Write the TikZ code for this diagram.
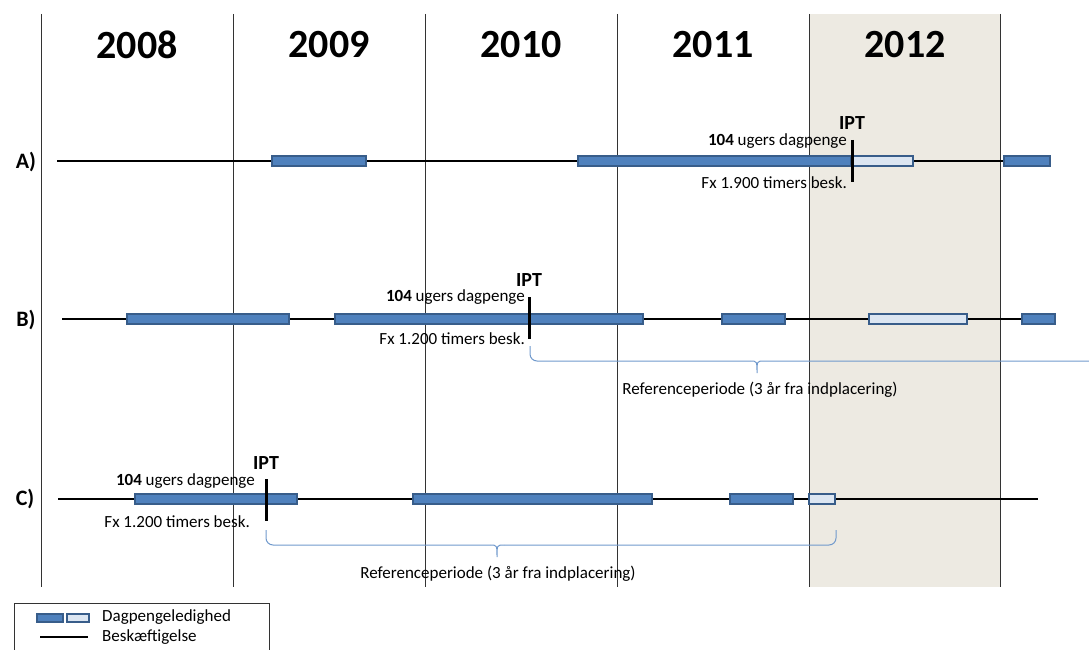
\documentclass[tikz,border=0pt]{standalone}
\usepackage{fontspec}
\setmainfont{Carlito}
\definecolor{barfill}{HTML}{4F81BD}
\definecolor{barline}{HTML}{385D8A}
\definecolor{lightfill}{HTML}{DCE6F2}
\definecolor{colshade}{HTML}{EDEAE2}
\definecolor{bracec}{HTML}{7099CC}
\newcommand{\seg}[5]{\node[#1,minimum width={(#4)-(#3)}] (#2) at ({((#3)+(#4))/2},#5) {};}
\begin{document}
\begin{tikzpicture}[x=1pt,y=-1pt,
  darkbar/.style={rectangle,draw=barline,fill=barfill,line width=1.3pt,minimum height=10pt,inner sep=0pt},
  lightbar/.style={rectangle,draw=barline,fill=lightfill,line width=1.3pt,minimum height=10pt,inner sep=0pt},
  timeline/.style={line width=2pt,black},
  ipttick/.style={line width=3pt,black},
  gridline/.style={line width=0.8pt,black!80},
  bracepath/.style={draw=bracec,line width=1pt},
  year/.style={font=\fontsize{40}{40}\selectfont\bfseries},
  rowlab/.style={font=\fontsize{22}{22}\selectfont\bfseries},
  small/.style={font=\fontsize{17}{17}\selectfont,inner sep=0pt},
  ipt/.style={font=\fontsize{20}{20}\selectfont\bfseries,inner sep=0pt}]
\useasboundingbox (0,0) rectangle (1089,650);
\clip (0,0) rectangle (1089,650);
% shaded 2012 column
\fill[colshade] (809,14) rectangle (1000,587);
% grid lines
\foreach \x/\n in {41/g0,233/g1,425/g2,617/g3,809/g4,1000/g5}{
  \coordinate (\n t) at (\x,14); \coordinate (\n b) at (\x,587);
  \draw[gridline] (\n t) -- (\n b);}
% years
\node[year] (y2008) at (137,45) {2008};
\node[year] (y2009) at (329,45) {2009};
\node[year] (y2010) at (521,45) {2010};
\node[year] (y2011) at (713,45) {2011};
\node[year] (y2012) at (905,45) {2012};
% row labels
\node[rowlab] (rA) at (26,162) {A)};
\node[rowlab] (rB) at (26,320) {B)};
\node[rowlab] (rC) at (25,499) {C)};
% Row A
\coordinate (As) at (57,161); \coordinate (Ae) at (1004,161);
\draw[timeline] (As) -- (Ae);
\seg{darkbar}{a1}{272}{366}{161}
\seg{darkbar}{a2}{578}{851}{161}
\seg{lightbar}{a3}{851}{913}{161}
\seg{darkbar}{a4}{1004}{1050}{161}
\coordinate (At1) at (852,140); \coordinate (At2) at (852,182);
\draw[ipttick] (At1) -- (At2);
\node[ipt] (iptA) at (852,123) {IPT};
\node[small,anchor=east] (dA) at (847,141) {\textbf{104} ugers dagpenge};
\node[small,anchor=east] (fA) at (847,183) {Fx 1.900 timers besk.};
% Row B
\coordinate (Bs) at (62,319); \coordinate (Be) at (1022,319);
\draw[timeline] (Bs) -- (Be);
\seg{darkbar}{b1}{127}{289}{319}
\seg{darkbar}{b2}{335}{643}{319}
\seg{darkbar}{b3}{722}{785}{319}
\seg{lightbar}{b4}{869}{967}{319}
\seg{darkbar}{b5}{1022}{1055}{319}
\coordinate (Bt1) at (529,297); \coordinate (Bt2) at (529,339);
\draw[ipttick] (Bt1) -- (Bt2);
\node[ipt] (iptB) at (529,280) {IPT};
\node[small,anchor=east] (dB) at (525,297) {\textbf{104} ugers dagpenge};
\node[small,anchor=east] (fB) at (525,339) {Fx 1.200 timers besk.};
% brace B
\draw[bracepath,rounded corners=7pt] (530,346) -- (530,361) -- (750,361);
\draw[bracepath] (750,361) .. controls (757,361) .. (757,373) .. controls (757,361) .. (764,361) -- (1100,361);
\node[small] (refB) at (760,390) {Referenceperiode (3 år fra indplacering)};
% Row C
\coordinate (Cs) at (58,499); \coordinate (Ce) at (1038,499);
\draw[timeline] (Cs) -- (Ce);
\seg{darkbar}{c1}{135}{297}{499}
\seg{darkbar}{c2}{413}{652}{499}
\seg{darkbar}{c3}{730}{793}{499}
\seg{lightbar}{c4}{809}{835}{499}
\coordinate (Ct1) at (266,479); \coordinate (Ct2) at (266,521);
\draw[ipttick] (Ct1) -- (Ct2);
\node[ipt] (iptC) at (266,463) {IPT};
\node[small,anchor=east] (dC) at (255,481) {\textbf{104} ugers dagpenge};
\node[small,anchor=east] (fC) at (250,522) {Fx 1.200 timers besk.};
% brace C
\draw[bracepath,rounded corners=7pt] (266,530) -- (266,545) -- (490,545);
\draw[bracepath] (490,545) .. controls (497,545) .. (497,557) .. controls (497,545) .. (504,545);
\draw[bracepath,rounded corners=7pt] (504,545) -- (836,545) -- (836,530);
\node[small] (refC) at (498,574) {Referenceperiode (3 år fra indplacering)};
% legend
\draw[line width=1pt,black!80] (14,603) rectangle (269,660);
\node[rectangle,draw=barline,fill=barfill,line width=1.3pt,minimum width=26pt,minimum height=8pt,inner sep=0pt] (lg1) at (50,618) {};
\node[rectangle,draw=barline,fill=lightfill,line width=1.3pt,minimum width=22pt,minimum height=8pt,inner sep=0pt] (lg2) at (78,618) {};
\coordinate (lgs) at (40,637); \coordinate (lge) at (88,637);
\draw[line width=1.5pt] (lgs) -- (lge);
\node[small,anchor=west] (lt1) at (102,617) {Dagpengeledighed};
\node[small,anchor=west] (lt2) at (102,637) {Beskæftigelse};
\end{tikzpicture}
\end{document}
